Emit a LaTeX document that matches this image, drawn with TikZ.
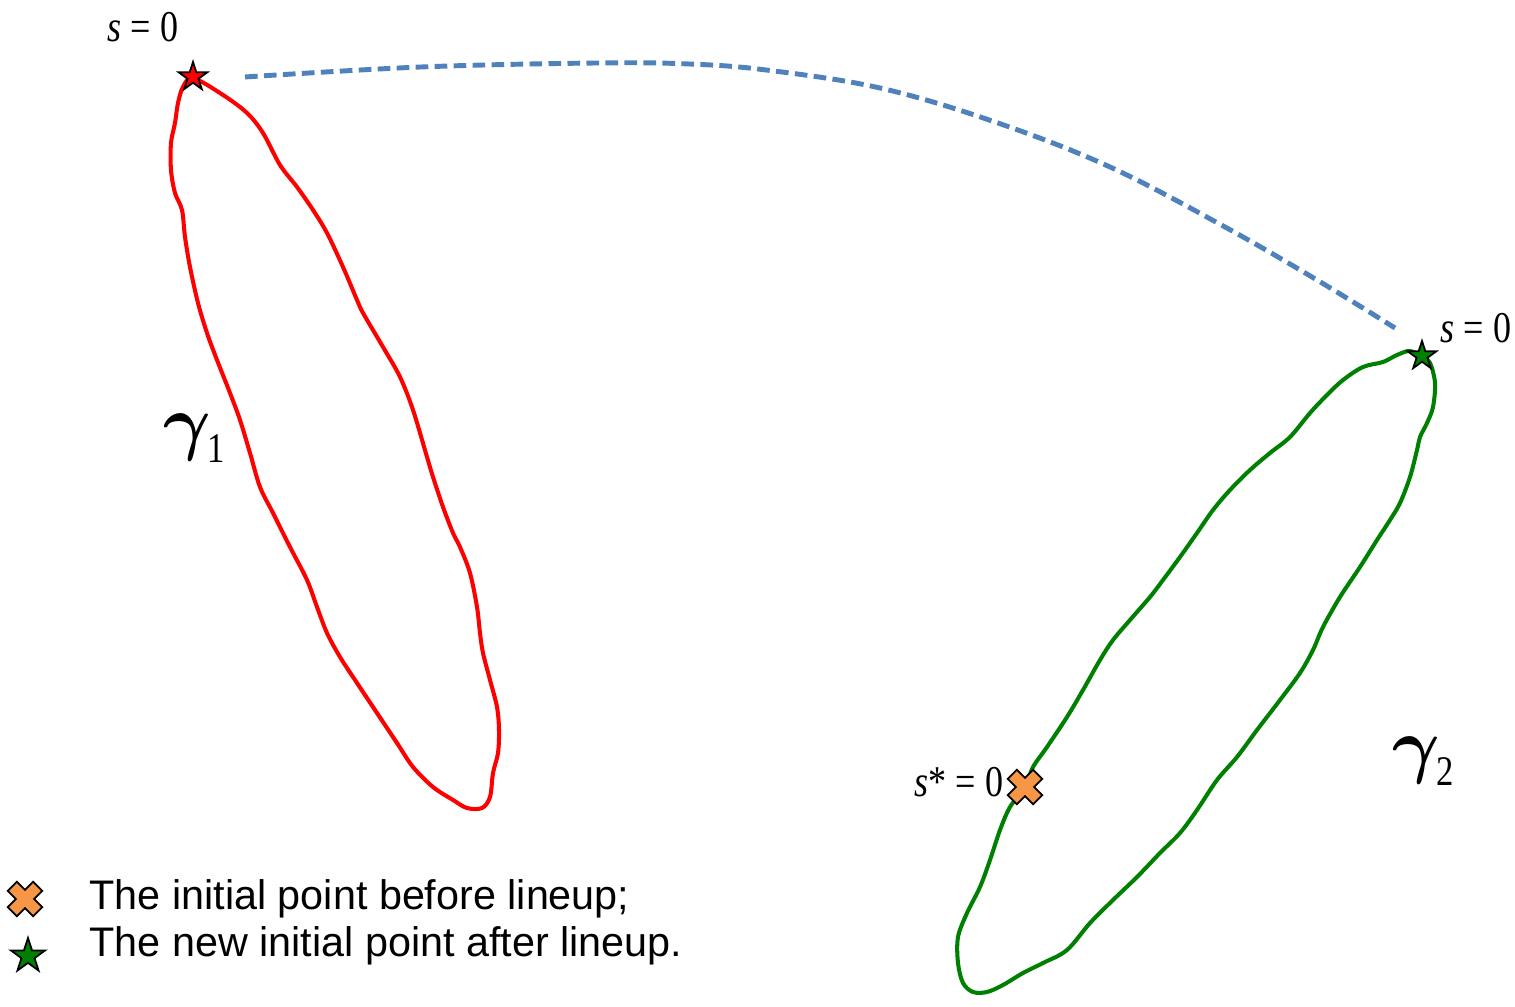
\documentclass[tikz,border=0pt]{standalone}
\usepackage{bm}
\usepackage{fontspec}
\setmainfont{Liberation Serif}
\newfontfamily\legendfont{Liberation Sans}
\usetikzlibrary{shapes.geometric}
\definecolor{xorange}{HTML}{F79646}
\definecolor{cgreen}{RGB}{0,128,0}
\definecolor{dblue}{HTML}{4F81BD}
\newcommand{\narrow}[1]{\scalebox{0.82}[1]{#1}}
\tikzset{
  starmark/.style={star, star points=5, star point ratio=2.618, inner sep=0pt,
    minimum size=0.3cm, draw=black, line width=0.5pt},
  lbl/.style={anchor=base west, inner sep=0pt, font=\fontsize{12.5}{14}\selectfont},
  leg/.style={anchor=base west, inner sep=0pt, font=\legendfont\fontsize{11.75}{13}\selectfont},
  curve/.style={line width=1.15pt, line join=round},
  xmark/.pic={\filldraw[fill=xorange, draw=black, line width=0.5pt, rotate=45]
    (6.5,6.5) -- (6.5,18) -- (-6.5,18) -- (-6.5,6.5) -- (-18,6.5) -- (-18,-6.5) --
    (-6.5,-6.5) -- (-6.5,-18) -- (6.5,-18) -- (6.5,-6.5) -- (18,-6.5) -- (18,6.5) -- cycle;}
}
\begin{document}
\begin{tikzpicture}[x=0.01cm, y=-0.01cm]
\useasboundingbox (0,0) rectangle (1515,1007);

% red curve gamma_1
\draw[curve, red] plot[smooth cycle, tension=0.55] coordinates {
(193,78) (223,95) (247,113) (263,133) (280,165) (297,187) (313,210) (327,233)
(343,267) (357,300) (363,313) (383,347) (400,377) (413,410) (427,457) (433,477)
(443,507) (453,533) (460,547) (470,573) (477,607) (480,633) (483,653) (490,680)
(497,707) (499,730) (498,753) (493,773) (490,797) (482,808) (467,808) (453,800)
(433,787) (413,767) (397,743) (377,713) (357,683) (340,657) (327,633) (317,607)
(307,580) (290,547) (273,513) (260,487) (250,453) (240,420) (230,393) (217,360)
(207,333) (198,303) (190,267) (185,237) (182,210) (175,193) (171,170) (171,143)
(175,123) (178,103) (183,87)};

% green curve gamma_2
\draw[curve, cgreen] plot[smooth cycle, tension=0.55] coordinates {
(1422,357) (1430,363) (1435,383) (1433,407) (1427,423) (1420,437) (1417,450)
(1410,477) (1400,503) (1390,520) (1377,540) (1360,567) (1340,597) (1323,627)
(1313,650) (1300,673) (1280,700) (1257,730) (1237,757) (1217,780) (1197,810)
(1180,833) (1160,853) (1137,877) (1113,900) (1090,923) (1067,950) (1043,963)
(1023,973) (1003,985) (987,992) (973,992) (963,983) (958,963) (958,937) (967,913)
(980,887) (990,860) (1000,830) (1010,807) (1025,787) (1033,767) (1047,747)
(1067,717) (1083,690) (1100,660) (1113,640) (1130,620) (1150,597) (1163,580)
(1180,557) (1197,533) (1213,510) (1230,490) (1250,470) (1270,453) (1290,437)
(1310,413) (1327,395) (1343,380) (1363,367) (1383,362) (1397,355) (1410,351)};

% dashed blue connection
\coordinate (dA) at (245,77);
\coordinate (dB) at (1395,328);
\draw[dblue, line width=1.4pt, dash pattern=on 3.6pt off 1.8pt] plot[smooth, tension=0.6] coordinates {
(dA) (421,67) (597,63) (689,64) (766,70) (880,88) (995,122) (1110,167) (1225,227) (1317,280) (dB)};

% markers on curves
\node[starmark, fill=red] (s1) at (193,77) {};
\node[starmark, fill=cgreen] (s2) at (1422,356) {};
\pic (x2) at (1025,787) {xmark};

% labels
\node[lbl] (l1) at (107,42) {\narrow{\textit{s} = 0}};
\node[lbl] (l2) at (1440,343) {\narrow{\textit{s} = 0}};
\node[lbl] (l3) at (914,797) {\narrow{\textit{s}* = 0}};
\node[anchor=base west, inner sep=0pt] (g1) at (163,447)
  {{\fontsize{21}{22}\selectfont$\bm{\gamma}$}\kern-1pt{\fontsize{12}{12}\selectfont\raisebox{-4.5pt}{\narrow{1}}}};
\node[anchor=base west, inner sep=0pt] (g2) at (1392,770)
  {{\fontsize{21}{22}\selectfont$\bm{\gamma}$}\kern-1pt{\fontsize{12}{12}\selectfont\raisebox{-4.5pt}{\narrow{2}}}};

% legend
\pic (lx) at (25,899) {xmark};
\node[starmark, fill=cgreen, minimum size=0.36cm] (ls) at (28,956) {};
\node[leg] (t1) at (89,910) {The initial point before lineup;};
\node[leg] (t2) at (89,957) {The new initial point after lineup.};
\end{tikzpicture}
\end{document}
